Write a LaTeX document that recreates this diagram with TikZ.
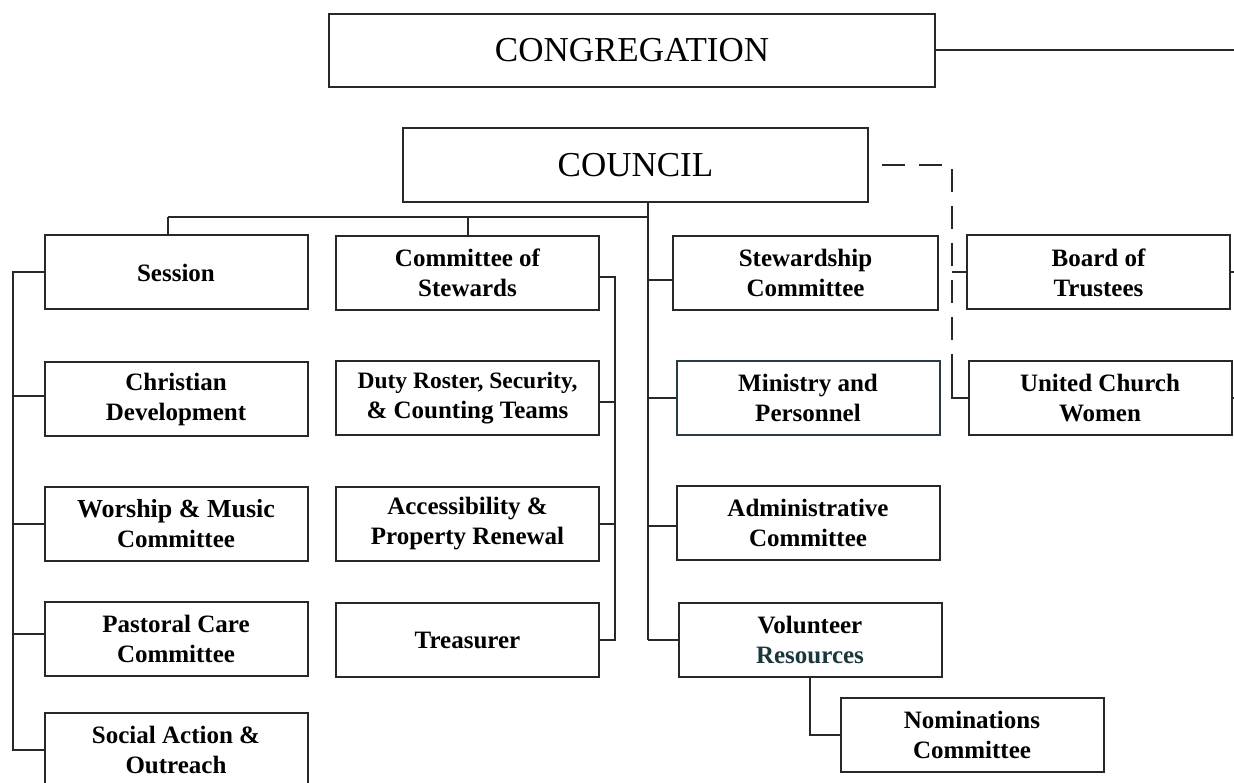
\documentclass[tikz,border=0pt]{standalone}
\usepackage{fontspec}
\setmainfont{Liberation Serif}
\definecolor{lncol}{RGB}{40,40,40}
\definecolor{tealtext}{RGB}{25,55,60}
\definecolor{slateline}{RGB}{40,60,70}
\begin{document}
\begin{tikzpicture}[x=1pt,y=-1pt,
  bx/.style={draw=lncol, line width=2pt, fill=white, inner sep=0pt, align=center,
    font=\fontsize{25}{30}\selectfont\bfseries, minimum width=263pt, minimum height=74pt},
  big/.style={bx, font=\fontsize{35}{40}\selectfont, minimum height=73pt},
  ln/.style={draw=lncol, line width=2pt},
  dsh/.style={ln, dash pattern=on 23pt off 14pt, dash phase=25pt}]
\useasboundingbox (0,0) rectangle (1234,783);
\fill[white] (0,0) rectangle (1234,783);
\clip (0,0) rectangle (1234,783);

% helper coordinates
\coordinate (s1) at (13,0);
\coordinate (s2) at (615,0);
\coordinate (s3) at (648,0);
\coordinate (d) at (952,0);
\coordinate (edge) at (1234,0);
\coordinate (bar) at (0,217);
\coordinate (st1) at (168,0);
\coordinate (st2) at (468,0);
\coordinate (dl) at (952,375);

% top
\node[big, minimum width=606pt] (cong) at (632,50.5) {CONGREGATION};
\node[big, minimum width=465pt, minimum height=74pt] (council) at (635.5,165) {COUNCIL};

% column 1
\node[bx] (sess) at (176,272.5) {Session};
\node[bx] (chr) at (176,399) {Christian\\Development};
\node[bx] (wor) at (176,523.5) {{\fontsize{26}{30}\selectfont Worship \& Music}\\Committee};
\node[bx] (past) at (176,638.5) {Pastoral Care\\Committee};
\node[bx] (soc) at (176,750) {Social Action \&\\Outreach};

% column 2
\node[bx] (cos) at (467.5,273) {Committee of\\Stewards};
\node[bx] (duty) at (467.5,398) {\fontsize{23.5}{30}\selectfont Duty Roster, Security,\\\& Counting Teams};
\node[bx] (acc) at (467.5,523.5) {Accessibility \&\\Property Renewal};
\node[bx] (treas) at (467.5,640) {Treasurer};

% column 3
\node[bx, minimum width=265pt] (stew) at (805.5,273) {Stewardship\\Committee};
\node[bx, draw=slateline] (min) at (808,398) {Ministry and\\Personnel};
\node[bx] (adm) at (808,523) {Administrative\\Committee};
\node[bx] (vol) at (810,640) {Volunteer\\\textcolor{tealtext}{Resources}};
\node[bx] (nom) at (972,735) {Nominations\\Committee};

% right column
\node[bx] (board) at (1098.5,272.5) {Board of\\Trustees};
\node[bx] (ucw) at (1100,398) {United Church\\Women};

% connectors
\draw[ln] (cong.east) -- (cong.east -| edge);
\draw[ln] (council.south -| s3) -- (vol.west -| s3);
\draw[ln] (bar -| st1) -- (bar -| s3);
\draw[ln] (bar -| st1) -- (sess.north -| st1);
\draw[ln] (bar -| st2) -- (cos.north -| st2);

\draw[ln] ([yshift=-7pt]stew.west) -- ([yshift=-7pt]stew.west -| s3);
\draw[ln] (min.west) -- (min.west -| s3);
\draw[ln] ([yshift=-3pt]adm.west) -- ([yshift=-3pt]adm.west -| s3);
\draw[ln] (vol.west) -- (vol.west -| s3);

\draw[ln] ([yshift=-4pt]cos.east) -| (treas.east -| s2) -- (treas.east);
\draw[ln] ([yshift=-4pt]duty.east) -- ([yshift=-4pt]duty.east -| s2);
\draw[ln] (acc.east) -- (acc.east -| s2);

\draw[ln] (sess.west) -| (soc.west -| s1) -- (soc.west);
\draw[ln] ([yshift=3pt]chr.west) -- ([yshift=3pt]chr.west -| s1);
\draw[ln] (wor.west) -- (wor.west -| s1);
\draw[ln] ([yshift=5pt]past.west) -- ([yshift=5pt]past.west -| s1);

\draw[dsh] ([xshift=1pt]council.east) -| (dl);
\draw[ln] (dl) |- (ucw.west);
\draw[ln] (board.west -| d) -- (board.west);
\draw[ln] (board.east) -- (board.east -| edge);
\draw[ln] (ucw.east) -- (ucw.east -| edge);

\draw[ln] (vol.south) |- (nom.west);
\end{tikzpicture}
\end{document}
